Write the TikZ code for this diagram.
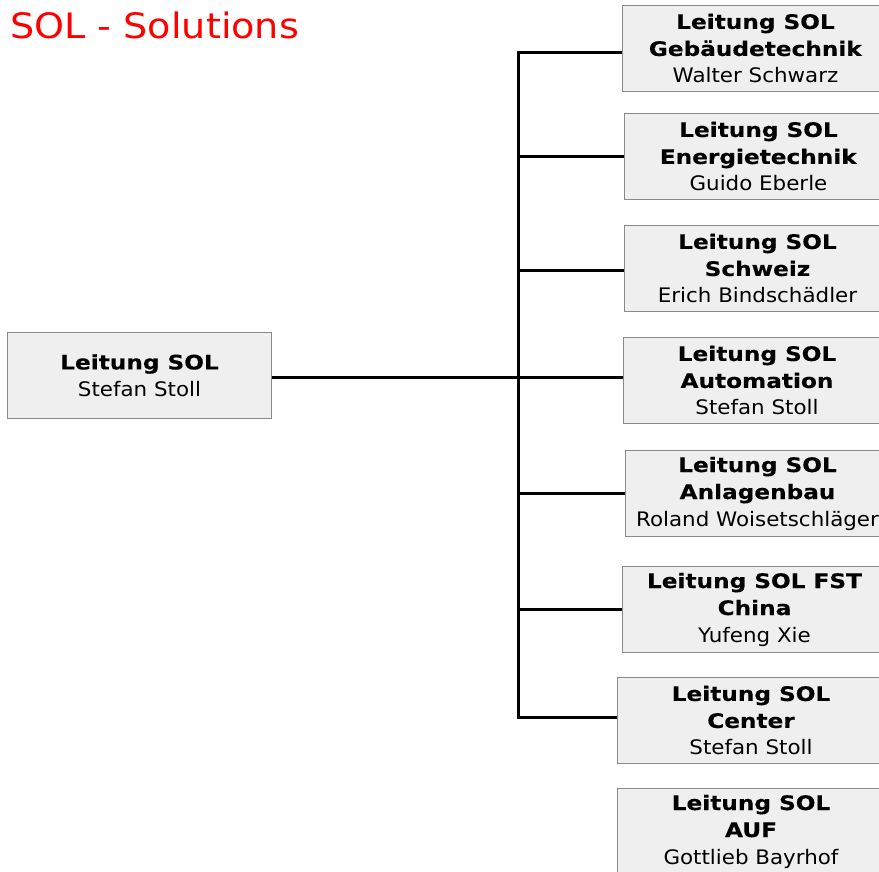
\documentclass[tikz,border=0pt]{standalone}
\usepackage{fontspec}
\setmainfont{DejaVu Sans}
\newfontfamily\boxfont[FakeStretch=1.07,BoldFeatures={FakeStretch=1.16,FakeBold=0.3}]{DejaVu Sans}
\newfontfamily\titlefont[FakeStretch=1.09]{DejaVu Sans}
\definecolor{boxfill}{HTML}{EFEFEF}
\definecolor{boxline}{HTML}{8A8A8A}
\definecolor{titlered}{HTML}{FF0000}
\tikzset{
  orgbox/.style={draw=boxline, line width=1pt, fill=boxfill, anchor=north west,
    minimum height=86pt, inner sep=0pt, align=center,
    font=\boxfont\fontsize{20}{27}\selectfont},
  conn/.style={draw=black, line width=3pt},
}
\begin{document}
\begin{tikzpicture}[x=1pt,y=-1pt]
\useasboundingbox (0,0) rectangle (879,871);
\clip (0,0) rectangle (879,871);
\node[anchor=base west, text=titlered, inner sep=0pt, font=\titlefont\fontsize{35}{40}\selectfont] (title) at (10,38) {SOL - Solutions};

\node[orgbox, minimum width=264pt] (main) at (7,332) {\textbf{Leitung SOL}\\Stefan Stoll};

\node[orgbox, minimum width=266pt] (b1) at (622,5) {\textbf{Leitung SOL}\\\textbf{Gebäudetechnik}\\Walter Schwarz};
\node[orgbox, minimum width=268pt] (b2) at (624,113) {\textbf{Leitung SOL}\\\textbf{Energietechnik}\\Guido Eberle};
\node[orgbox, minimum width=266pt] (b3) at (624,225) {\textbf{Leitung SOL}\\\textbf{Schweiz}\\Erich Bindschädler};
\node[orgbox, minimum width=267pt] (b4) at (623,337) {\textbf{Leitung SOL}\\\textbf{Automation}\\Stefan Stoll};
\node[orgbox, minimum width=264pt] (b5) at (625,450) {\textbf{Leitung SOL}\\\textbf{Anlagenbau}\\Roland Woisetschläger};
\node[orgbox, minimum width=264pt] (b6) at (622,566) {\textbf{Leitung SOL FST}\\\textbf{China}\\Yufeng Xie};
\node[orgbox, minimum width=267pt] (b7) at (617,677) {\textbf{Leitung SOL}\\\textbf{Center}\\Stefan Stoll};
\node[orgbox, minimum width=267pt] (b8) at (617,788) {\textbf{Leitung SOL}\\\textbf{AUF}\\Gottlieb Bayrhof};

\coordinate (j1) at (518,52);
\coordinate (j2) at (518,156);
\coordinate (j3) at (518,270);
\coordinate (j4) at (518,377);
\coordinate (j5) at (518,493);
\coordinate (j6) at (518,609);
\coordinate (j7) at (518,717);

\draw[conn] (main.east |- j4) -- (j4);
\draw[conn, line cap=rect] (j1) -- (j7);
\foreach \i in {1,...,7} {
  \draw[conn] (j\i) -- (b\i.west |- j\i);
}
\end{tikzpicture}
\end{document}
